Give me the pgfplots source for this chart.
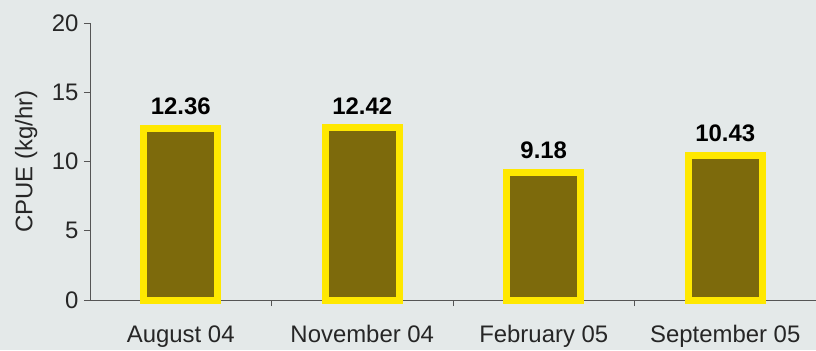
\documentclass[border=0pt]{standalone}
\usepackage{pgfplots}
\pgfplotsset{compat=1.18}
\usepackage{fontspec}
\setmainfont{Liberation Sans}
\definecolor{bg}{HTML}{E4E9E9}
\definecolor{olive}{HTML}{7D6A0C}
\definecolor{yel}{HTML}{FFE800}
\definecolor{axc}{HTML}{555555}
\begin{document}
\begin{tikzpicture}[x=1bp,y=1bp]
\useasboundingbox (0,0) rectangle (816,350);
\fill[bg] (0,0) rectangle (816,350);
\begin{axis}[
  at={(90bp,50bp)}, anchor=south west,
  scale only axis, width=726bp, height=277bp,
  xmin=-0.5, xmax=3.5, ymin=0, ymax=20,
  axis lines*=left,
  axis line style={axc, line width=0.8pt},
  xtick={0,1,2,3},
  xticklabels={August 04, November 04, February 05, September 05},
  minor xtick={0.5,1.5,2.5},
  ytick={0,5,10,15,20},
  tick align=outside,
  major x tick style={draw=none},
  minor tick length=6bp,
  major tick length=6bp,
  tick style={axc, line width=0.8pt},
  ticklabel style={font=\fontsize{24}{26}\selectfont, text=black!85},
  /pgf/number format/assume math mode=true,
  xticklabel style={yshift=-16bp},
  yticklabel style={xshift=-2bp},
  ylabel={CPUE (kg/hr)},
  every axis y label/.style={at={(axis description cs:-0.088,0.5)}, rotate=90, anchor=center, font=\fontsize{24}{26}\selectfont, text=black!85},
  clip=false,
  nodes near coords={\pgfmathprintnumber[fixed, precision=2, fixed zerofill, assume math mode=true]{\pgfplotspointmeta}},
  nodes near coords style={font=\bfseries\fontsize{24}{26}\selectfont, text=black, yshift=7bp},
]
\addplot[ybar, bar width=74bp, fill=olive, draw=yel, line width=7bp, bar shift=0pt] coordinates {(0,12.36) (1,12.42) (2,9.18) (3,10.43)};
\end{axis}
\end{tikzpicture}
\end{document}
